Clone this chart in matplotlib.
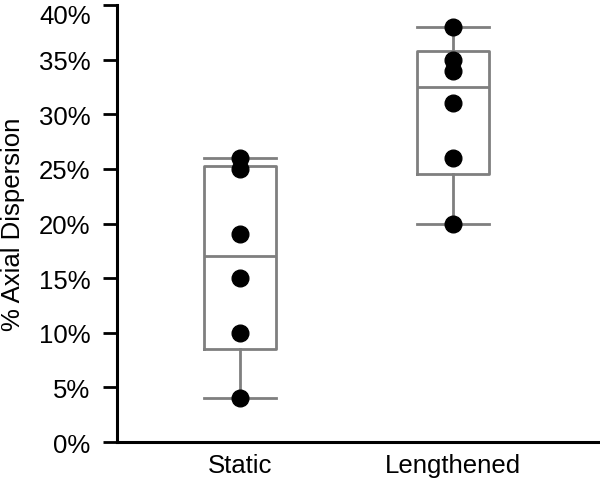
import numpy as np
import matplotlib.pyplot as plt
import matplotlib.transforms as mtransforms

# data (% axial dispersion)
groups = ["Static", "Lengthened"]
static = [4, 10, 15, 19, 25, 26]
lengthened = [20, 26, 31, 34, 35, 38]
yticks = [0, 5, 10, 15, 20, 25, 30, 35, 40]

plt.rcParams['font.family'] = ['Liberation Sans', 'DejaVu Sans']

fig = plt.figure(figsize=(6, 4.81), dpi=100)
ax = fig.add_axes([0.195, 0.079, 0.803, 0.9085])

gray = '#7f7f7f'
stats = []
for name, vals in zip(groups, [static, lengthened]):
    v = np.array(vals, dtype=float)
    q1, med, q3 = np.percentile(v, [25, 50, 75], method='weibull')
    stats.append(dict(label=name, med=med, q1=q1, q3=q3,
                      whislo=v.min(), whishi=v.max(), fliers=[]))

ax.bxp(stats, positions=[1, 2], widths=0.34, showfliers=False,
       boxprops=dict(color=gray, linewidth=2),
       medianprops=dict(color=gray, linewidth=2),
       whiskerprops=dict(color=gray, linewidth=2),
       capprops=dict(color=gray, linewidth=2),
       capwidths=0.34)

for i, vals in enumerate([static, lengthened]):
    ax.plot([i + 1] * len(vals), vals, 'o', color='black', markersize=12, zorder=5)

ax.set_xlim(0.4225, 2.685)
ax.set_ylim(0, 40)
ax.set_yticks(yticks)
ax.set_yticklabels([f"{t}%" for t in yticks])
ax.set_xticks([1, 2])
ax.set_xticklabels(groups)
ax.set_ylabel("% Axial Dispersion", fontsize=18.5)
ax.yaxis.set_label_coords(-0.191, 0.5)

for s in ['top', 'right']:
    ax.spines[s].set_visible(False)
for s in ['left', 'bottom']:
    ax.spines[s].set_linewidth(2.2)
ax.tick_params(axis='y', length=10, width=2, labelsize=18.5, pad=9)
ax.tick_params(axis='x', length=0, labelsize=18.5, pad=8)

# top label sits a little below its tick in the original so it stays inside
top_lbl = ax.get_yticklabels()[-1]
top_lbl.set_transform(top_lbl.get_transform() +
                      mtransforms.ScaledTranslation(0, -6 / 72, fig.dpi_scale_trans))

fig.savefig("out.png", dpi=100)
